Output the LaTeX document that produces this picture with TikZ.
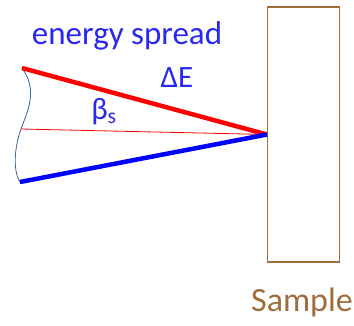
\documentclass[tikz,border=0pt]{standalone}
\usepackage{fontspec}
\setmainfont{Carlito}
\begin{document}
\begin{tikzpicture}[
		x=1pt, y=-1pt,
		beam/.style={line width=4.5pt},
		lbl/.style={text=spreadblue, inner sep=0pt},
		sample/.style={draw=samplebrown, line width=1.3pt}
		]
		\definecolor{spreadblue}{RGB}{40,40,240}
		\definecolor{samplebrown}{RGB}{160,110,60}
		\definecolor{curveblue}{RGB}{60,100,150}
		\useasboundingbox (0,0) rectangle (354,325);
		
		% Sample
		\node[sample, minimum width=72pt, minimum height=255pt, inner sep=0pt] (smp) at (303.5,134.5) {};
		\node[text=samplebrown, font=\fontsize{34}{34}\selectfont, inner sep=0pt] (smplbl) at (302,302) {Sample};
		
		% Beam ends
		\coordinate (foc) at (smp.west);
		\coordinate (top) at (22,68);
		\coordinate (bot) at (20,182);
		\coordinate (mid) at (21,129);
		
		% Spread front
		\draw[curveblue, line width=0.8pt] (top) .. controls (38,90) and (28,110) .. (mid)
			.. controls (12,155) and (15,175) .. (bot);
		
		% Rays
		\draw[red, line width=0.8pt] (mid) -- (foc);
		\draw[beam, red] (top) -- (foc);
		\draw[beam, blue] (bot) -- (foc);
		
		% Labels
		\node[lbl, font=\fontsize{33}{33}\selectfont] (spread) at (127,36) {energy spread};
		\node[lbl, font=\fontsize{31}{31}\selectfont] (dE) at (177,78) {ΔE};
		\node[lbl, font=\fontsize{31}{31}\selectfont] (bs) at (104,112) {β\textsubscript{s}};
		
	\end{tikzpicture}
\end{document}
